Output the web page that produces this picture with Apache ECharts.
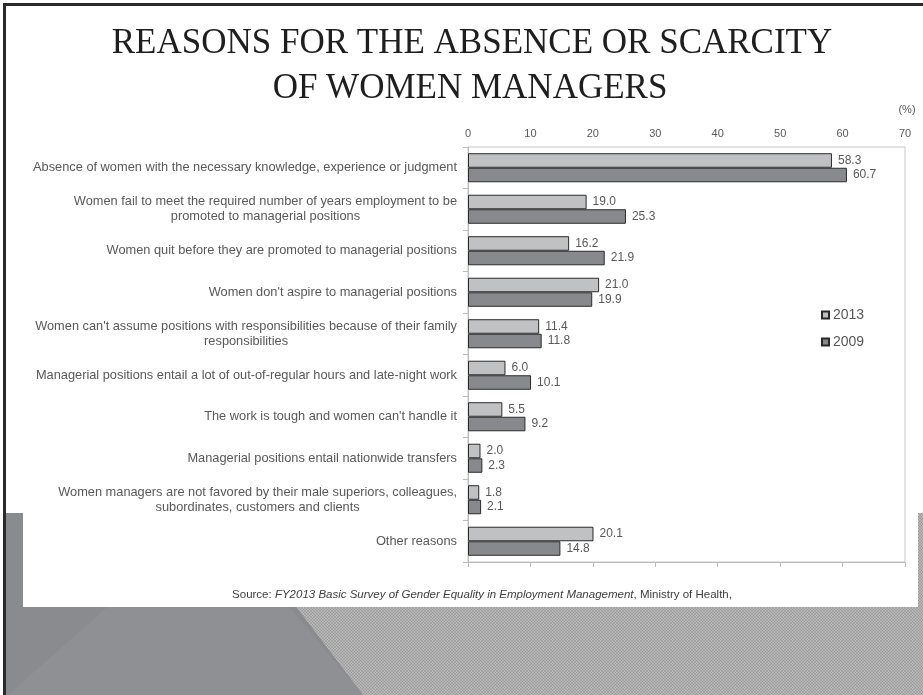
<!DOCTYPE html>
<html>
<head>
<meta charset="utf-8">
<script src="https://cdn.jsdelivr.net/npm/echarts@6/dist/echarts.min.js"></script>
<style>
  html, body { margin: 0; padding: 0; background: #ffffff; }
  #chart { width: 923px; height: 695px; }
</style>
</head>
<body>
<div id="chart"></div>
<script>
// Reasons given for few or no women managers (% of companies), FY2013 vs FY2009
const categories = [
  "Absence of women with the necessary knowledge, experience or judgment",
  "Women fail to meet the required number of years employment to be\npromoted to managerial positions",
  "Women quit before they are promoted to managerial positions",
  "Women don't aspire to managerial positions",
  "Women can't assume positions with responsibilities because of their family\nresponsibilities",
  "Managerial positions entail a lot of out-of-regular hours and late-night work",
  "The work is tough and women can't handle it",
  "Managerial positions entail nationwide transfers",
  "Women managers are not favored by their male superiors, colleagues,\nsubordinates, customers and clients",
  "Other reasons"
];
const values2013 = [58.3, 19.0, 16.2, 21.0, 11.4, 6.0, 5.5, 2.0, 1.8, 20.1];
const values2009 = [60.7, 25.3, 21.9, 19.9, 11.8, 10.1, 9.2, 2.3, 2.1, 14.8];
const seriesNames = ["2013", "2009"];
const axisMin = 0;
const axisMax = 70;
const axisStep = 10;
const unitLabel = "(%)";

const titleLines = ["REASONS FOR THE ABSENCE OR SCARCITY", "OF WOMEN MANAGERS"];
const sourceParts = ["Source: ", "FY2013 Basic Survey of Gender Equality in Employment Management", ", Ministry of Health,"];

// small repeating tile for the dotted grey band at the bottom of the slide
function makeTexture() {
  const c = document.createElement('canvas');
  c.width = 3; c.height = 3;
  const g = c.getContext('2d');
  g.fillStyle = '#a4a4a4';
  g.fillRect(0, 0, 3, 3);
  g.fillStyle = '#b8b8b8';
  g.fillRect(0, 0, 3, 1);
  g.fillRect(0, 0, 1, 3);
  g.fillStyle = '#939393';
  g.fillRect(0, 0, 1, 1);
  return c;
}

const chart = echarts.init(document.getElementById('chart'), null, { renderer: 'canvas' });

const labelFont = '"Liberation Sans", Arial, sans-serif';
const grey = '#595959';

function catLabel(v) {
  return v.split('\n').map(function (s) { return '{c|' + s + '}'; }).join('\n');
}

const valueLabel = {
  show: true, position: 'right', distance: 6,
  formatter: function (p) { return p.value.toFixed(1); },
  color: grey, fontSize: 12, fontFamily: labelFont
};

const option = {
  backgroundColor: '#ffffff',
  animation: false,
  title: {
    text: '{n|' + sourceParts[0] + '}{i|' + sourceParts[1] + '}{n|' + sourceParts[2] + '}',
    left: 477,
    top: 584,
    textAlign: 'center',
    textStyle: {
      fontWeight: 'normal',
      rich: {
        n: { fontSize: 11.5, fontFamily: labelFont, color: '#404040', fontWeight: 'normal' },
        i: { fontSize: 11.5, fontFamily: labelFont, color: '#404040', fontWeight: 'normal', fontStyle: 'italic' }
      }
    }
  },
  legend: {
    data: seriesNames,
    orient: 'vertical',
    left: 816,
    top: 303,
    itemWidth: 7,
    itemHeight: 7,
    itemGap: 13,
    icon: 'rect',
    textStyle: { fontSize: 14, fontFamily: labelFont, color: grey, padding: [0, 0, 0, -1] }
  },
  grid: {
    left: 468,
    right: 18,
    top: 147,
    bottom: 133,
    show: true,
    borderColor: '#c8c8c8',
    borderWidth: 1,
    backgroundColor: 'transparent'
  },
  xAxis: [
    {
      type: 'value',
      position: 'top',
      min: axisMin,
      max: axisMax,
      interval: axisStep,
      axisLine: { show: false },
      axisTick: { show: false },
      splitLine: { show: false },
      axisLabel: { color: grey, fontSize: 11, fontFamily: labelFont, margin: 8 }
    },
    {
      type: 'value',
      position: 'bottom',
      min: axisMin,
      max: axisMax,
      interval: axisStep,
      axisLine: { show: true, lineStyle: { color: '#bcbcbc', width: 1 } },
      axisTick: { show: true, length: 5, lineStyle: { color: '#bcbcbc' } },
      splitLine: { show: false },
      axisLabel: { show: false }
    }
  ],
  yAxis: {
    type: 'category',
    inverse: true,
    data: categories,
    axisLine: { show: true, lineStyle: { color: '#bcbcbc', width: 1 } },
    axisTick: { show: true, length: 5, lineStyle: { color: '#bcbcbc' } },
    axisLabel: {
      margin: 11,
      align: 'right',
      formatter: catLabel,
      rich: {
        c: { align: 'center', color: grey, fontSize: 12.8, fontFamily: labelFont, lineHeight: 15 }
      }
    }
  },
  series: [
    {
      name: seriesNames[0],
      type: 'bar',
      xAxisIndex: 0,
      data: values2013,
      barGap: '0%',
      barCategoryGap: '30%',
      itemStyle: { color: '#c0c1c3', borderColor: '#2b2b2b', borderWidth: 1 },
      label: valueLabel
    },
    {
      name: seriesNames[1],
      type: 'bar',
      xAxisIndex: 0,
      data: values2009,
      barGap: '0%',
      barCategoryGap: '30%',
      itemStyle: { color: '#88898c', borderColor: '#2b2b2b', borderWidth: 1 },
      label: valueLabel
    }
  ],
  graphic: [
    // slide decoration: textured band, dark wedge, frame lines, white chart panel
    { type: 'rect', z: -20, silent: true, shape: { x: 6, y: 513, width: 917, height: 182 },
      style: { fill: { image: makeTexture(), repeat: 'repeat' } } },
    { type: 'polygon', z: -19, silent: true,
      shape: { points: [[6, 513], [225, 513], [363, 695], [6, 695]] },
      style: { fill: '#8a8b8e' } },
    { type: 'polygon', z: -18, silent: true,
      shape: { points: [[8, 695], [140, 578], [265, 578], [363, 695]] },
      style: { fill: '#8f9093' } },
    { type: 'rect', z: -17, silent: true, shape: { x: 23, y: 0, width: 895, height: 607 },
      style: { fill: '#ffffff' } },
    { type: 'rect', z: -16, silent: true, shape: { x: 3, y: 3, width: 920, height: 3 },
      style: { fill: '#2a2a2a' } },
    { type: 'rect', z: -16, silent: true, shape: { x: 3, y: 3, width: 3, height: 692 },
      style: { fill: '#2a2a2a' } },
    // slide heading
    { type: 'text', z: 10, silent: true, x: 472, y: 44,
      style: { text: titleLines[0], font: '35px "Liberation Serif", "Times New Roman", serif',
        fill: '#1e1e1e', textFill: '#1e1e1e', align: 'center', textAlign: 'center',
        verticalAlign: 'middle', textVerticalAlign: 'middle' } },
    { type: 'text', z: 10, silent: true, x: 470, y: 89,
      style: { text: titleLines[1], font: '35px "Liberation Serif", "Times New Roman", serif',
        fill: '#1e1e1e', textFill: '#1e1e1e', align: 'center', textAlign: 'center',
        verticalAlign: 'middle', textVerticalAlign: 'middle' } },
    // unit for the value axis
    { type: 'text', z: 10, silent: true, x: 907, y: 110,
      style: { text: unitLabel, font: '11px "Liberation Sans", Arial, sans-serif',
        fill: grey, textFill: grey, align: 'center', textAlign: 'center',
        verticalAlign: 'middle', textVerticalAlign: 'middle' } }
  ]
};

chart.setOption(option);
</script>
</body>
</html>
